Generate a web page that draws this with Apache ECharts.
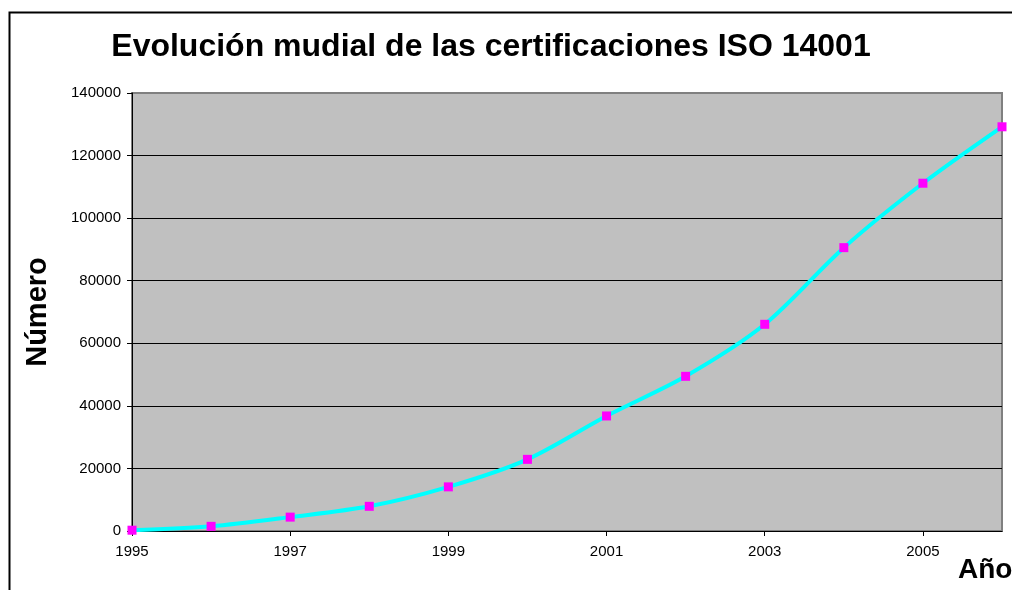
<!DOCTYPE html>
<html>
<head>
<meta charset="utf-8">
<script src="https://cdn.jsdelivr.net/npm/echarts@6/dist/echarts.min.js"></script>
<style>
  html, body { margin: 0; padding: 0; background: #fff; }
  #chart { width: 1012px; height: 590px; }
</style>
</head>
<body>
<div id="chart"></div>
<script>
  // datos
  var years = ['1995', '1996', '1997', '1998', '1999', '2000', '2001', '2002', '2003', '2004', '2005', '2006']
  var certificaciones = [257, 1491, 4433, 7887, 14106, 22897, 36765, 49440, 66070, 90569, 111162, 129199]

  var font = 'Arial, "Liberation Sans", sans-serif'
  var chart = echarts.init(document.getElementById('chart'))

  var option = {
    animation: false,
    title: {
      text: 'Evolución mudial de las certificaciones ISO 14001',
      left: 486,
      textAlign: 'center',
      top: 26,
      textStyle: {
        fontFamily: font,
        fontSize: 32,
        fontWeight: 'bold',
        color: '#000'
      }
    },
    grid: {
      left: 132,
      right: 10,
      top: 93,
      bottom: 59,
      show: true,
      backgroundColor: '#c0c0c0',
      borderColor: '#808080',
      borderWidth: 2
    },
    xAxis: {
      type: 'category',
      boundaryGap: false,
      data: years,
      axisLine: { lineStyle: { color: '#000', width: 1 } },
      axisTick: { show: true, interval: 1, length: 5, lineStyle: { color: '#000' } },
      axisLabel: {
        interval: 1,
        margin: 13,
        fontFamily: font,
        fontSize: 15,
        color: '#000'
      },
      splitLine: { show: false }
    },
    yAxis: {
      type: 'value',
      min: 0,
      max: 140000,
      interval: 20000,
      name: 'Número',
      nameLocation: 'middle',
      nameGap: 80,
      nameTextStyle: {
        fontFamily: font,
        fontSize: 29,
        fontWeight: 'bold',
        color: '#000'
      },
      axisLine: { show: true, lineStyle: { color: '#000', width: 1 } },
      axisTick: { show: true, length: 5, lineStyle: { color: '#000' } },
      axisLabel: {
        margin: 11,
        fontFamily: font,
        fontSize: 15,
        color: '#000',
        formatter: function (v) { return String(v) }
      },
      splitLine: {
        show: true,
        lineStyle: {
          color: ['#000', '#000', '#000', '#000', '#000', '#000', '#000', '#808080'],
          width: 1
        }
      }
    },
    graphic: [
      {
        type: 'rect',
        left: 7,
        top: 10,
        shape: { width: 1100, height: 700 },
        style: { fill: 'none', stroke: '#000', lineWidth: 2 },
        silent: true
      },
      {
        type: 'text',
        left: 958,
        top: 556,
        style: {
          text: 'Año',
          font: 'bold 28px Arial, "Liberation Sans", sans-serif',
          fill: '#000'
        }
      }
    ],
    series: [{
      name: 'Número',
      type: 'line',
      smooth: 0.3,
      data: certificaciones,
      symbol: 'rect',
      symbolSize: 9,
      itemStyle: { color: '#ff00ff' },
      lineStyle: { color: '#00ffff', width: 4 },
      clip: false
    }]
  }

  chart.setOption(option)
</script>
</body>
</html>
